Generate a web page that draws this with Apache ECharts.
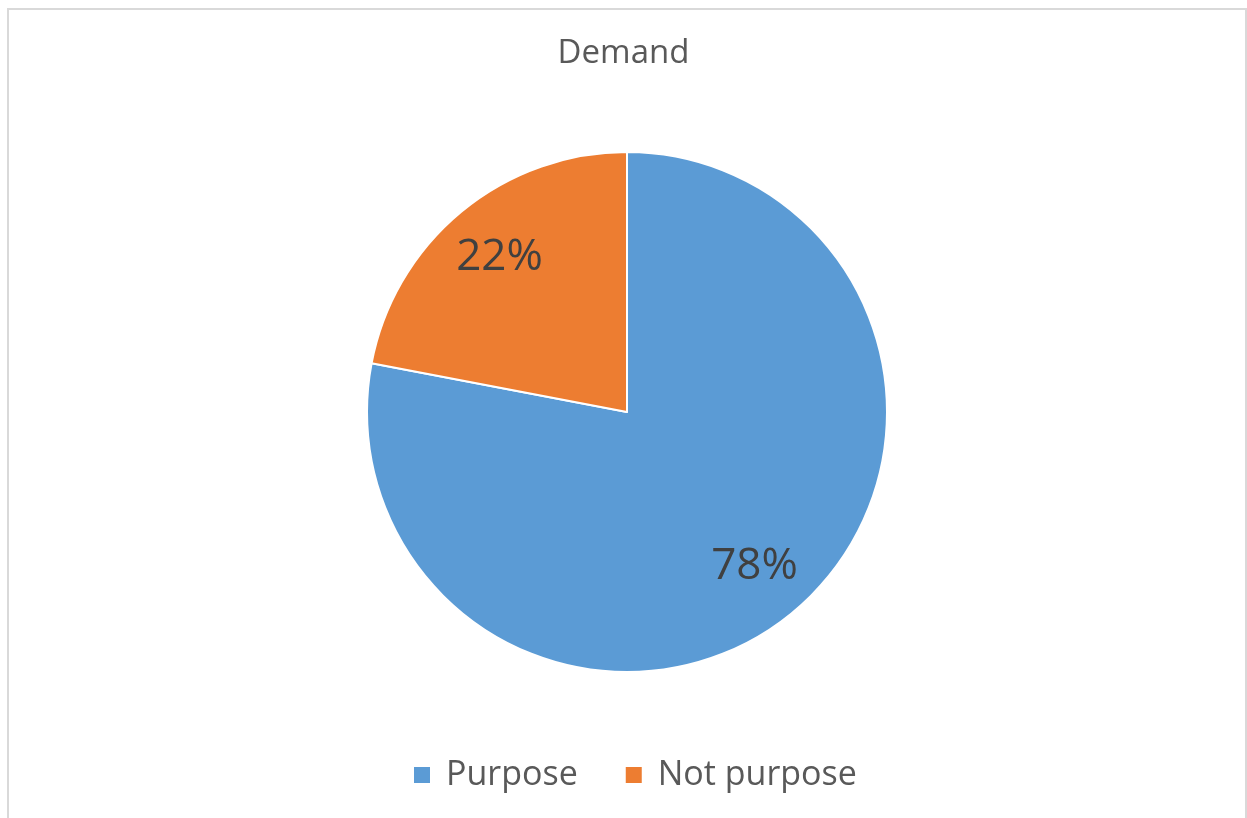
<!DOCTYPE html>
<html>
<head>
<meta charset="utf-8">
<script src="https://cdn.jsdelivr.net/npm/echarts@6/dist/echarts.min.js"></script>
<style>
html,body{margin:0;padding:0;background:#fff;}
#chart{width:1247px;height:818px;}
</style>
</head>
<body>
<div id="chart"></div>
<script>
var categories = ['Purpose', 'Not purpose'];
var values = [78, 22];
var colors = ['#5B9BD5', '#ED7D31'];
var titleText = 'Demand';

var data = categories.map(function (c, i) {
  return { name: c, value: values[i], itemStyle: { color: colors[i] } };
});

var chart = echarts.init(document.getElementById('chart'));
var font = '"Open Sans", sans-serif';
chart.setOption({
  backgroundColor: '#fff',
  animation: false,
  graphic: [{
    type: 'rect',
    shape: { x: 8, y: 9, width: 1238, height: 830 },
    style: { fill: 'none', stroke: '#d9d9d9', lineWidth: 2 },
    silent: true
  }],
  title: {
    text: titleText,
    left: 'center',
    top: 32,
    textStyle: { fontFamily: font, fontSize: 33, fontWeight: 'normal', color: '#595959' }
  },
  legend: {
    bottom: 26,
    left: 412,
    padding: 0,
    icon: 'rect',
    itemWidth: 18,
    itemHeight: 18,
    itemGap: 46,
    data: categories,
    textStyle: { fontFamily: font, fontSize: 34, color: '#595959', padding: [0, 0, 0, 10] }
  },
  series: [{
    type: 'pie',
    center: [627, 412],
    radius: [0, 260],
    startAngle: 90,
    clockwise: true,
    data: data,
    label: { show: false },
    labelLine: { show: false },
    itemStyle: { borderColor: '#fff', borderWidth: 2 },
    emphasis: { disabled: true }
  }, {
    type: 'pie',
    center: [627, 412],
    radius: [134, 260],
    startAngle: 90,
    clockwise: true,
    silent: true,
    data: data.map(function (d) { return { name: d.name, value: d.value, itemStyle: { color: 'rgba(0,0,0,0)' } }; }),
    itemStyle: { color: 'rgba(0,0,0,0)' },
    label: {
      show: true,
      position: 'inside',
      formatter: function (p) { return p.value + '%'; },
      fontFamily: font,
      fontSize: 44,
      color: '#404040'
    },
    labelLine: { show: false },
    emphasis: { disabled: true }
  }]
});
</script>
</body>
</html>
